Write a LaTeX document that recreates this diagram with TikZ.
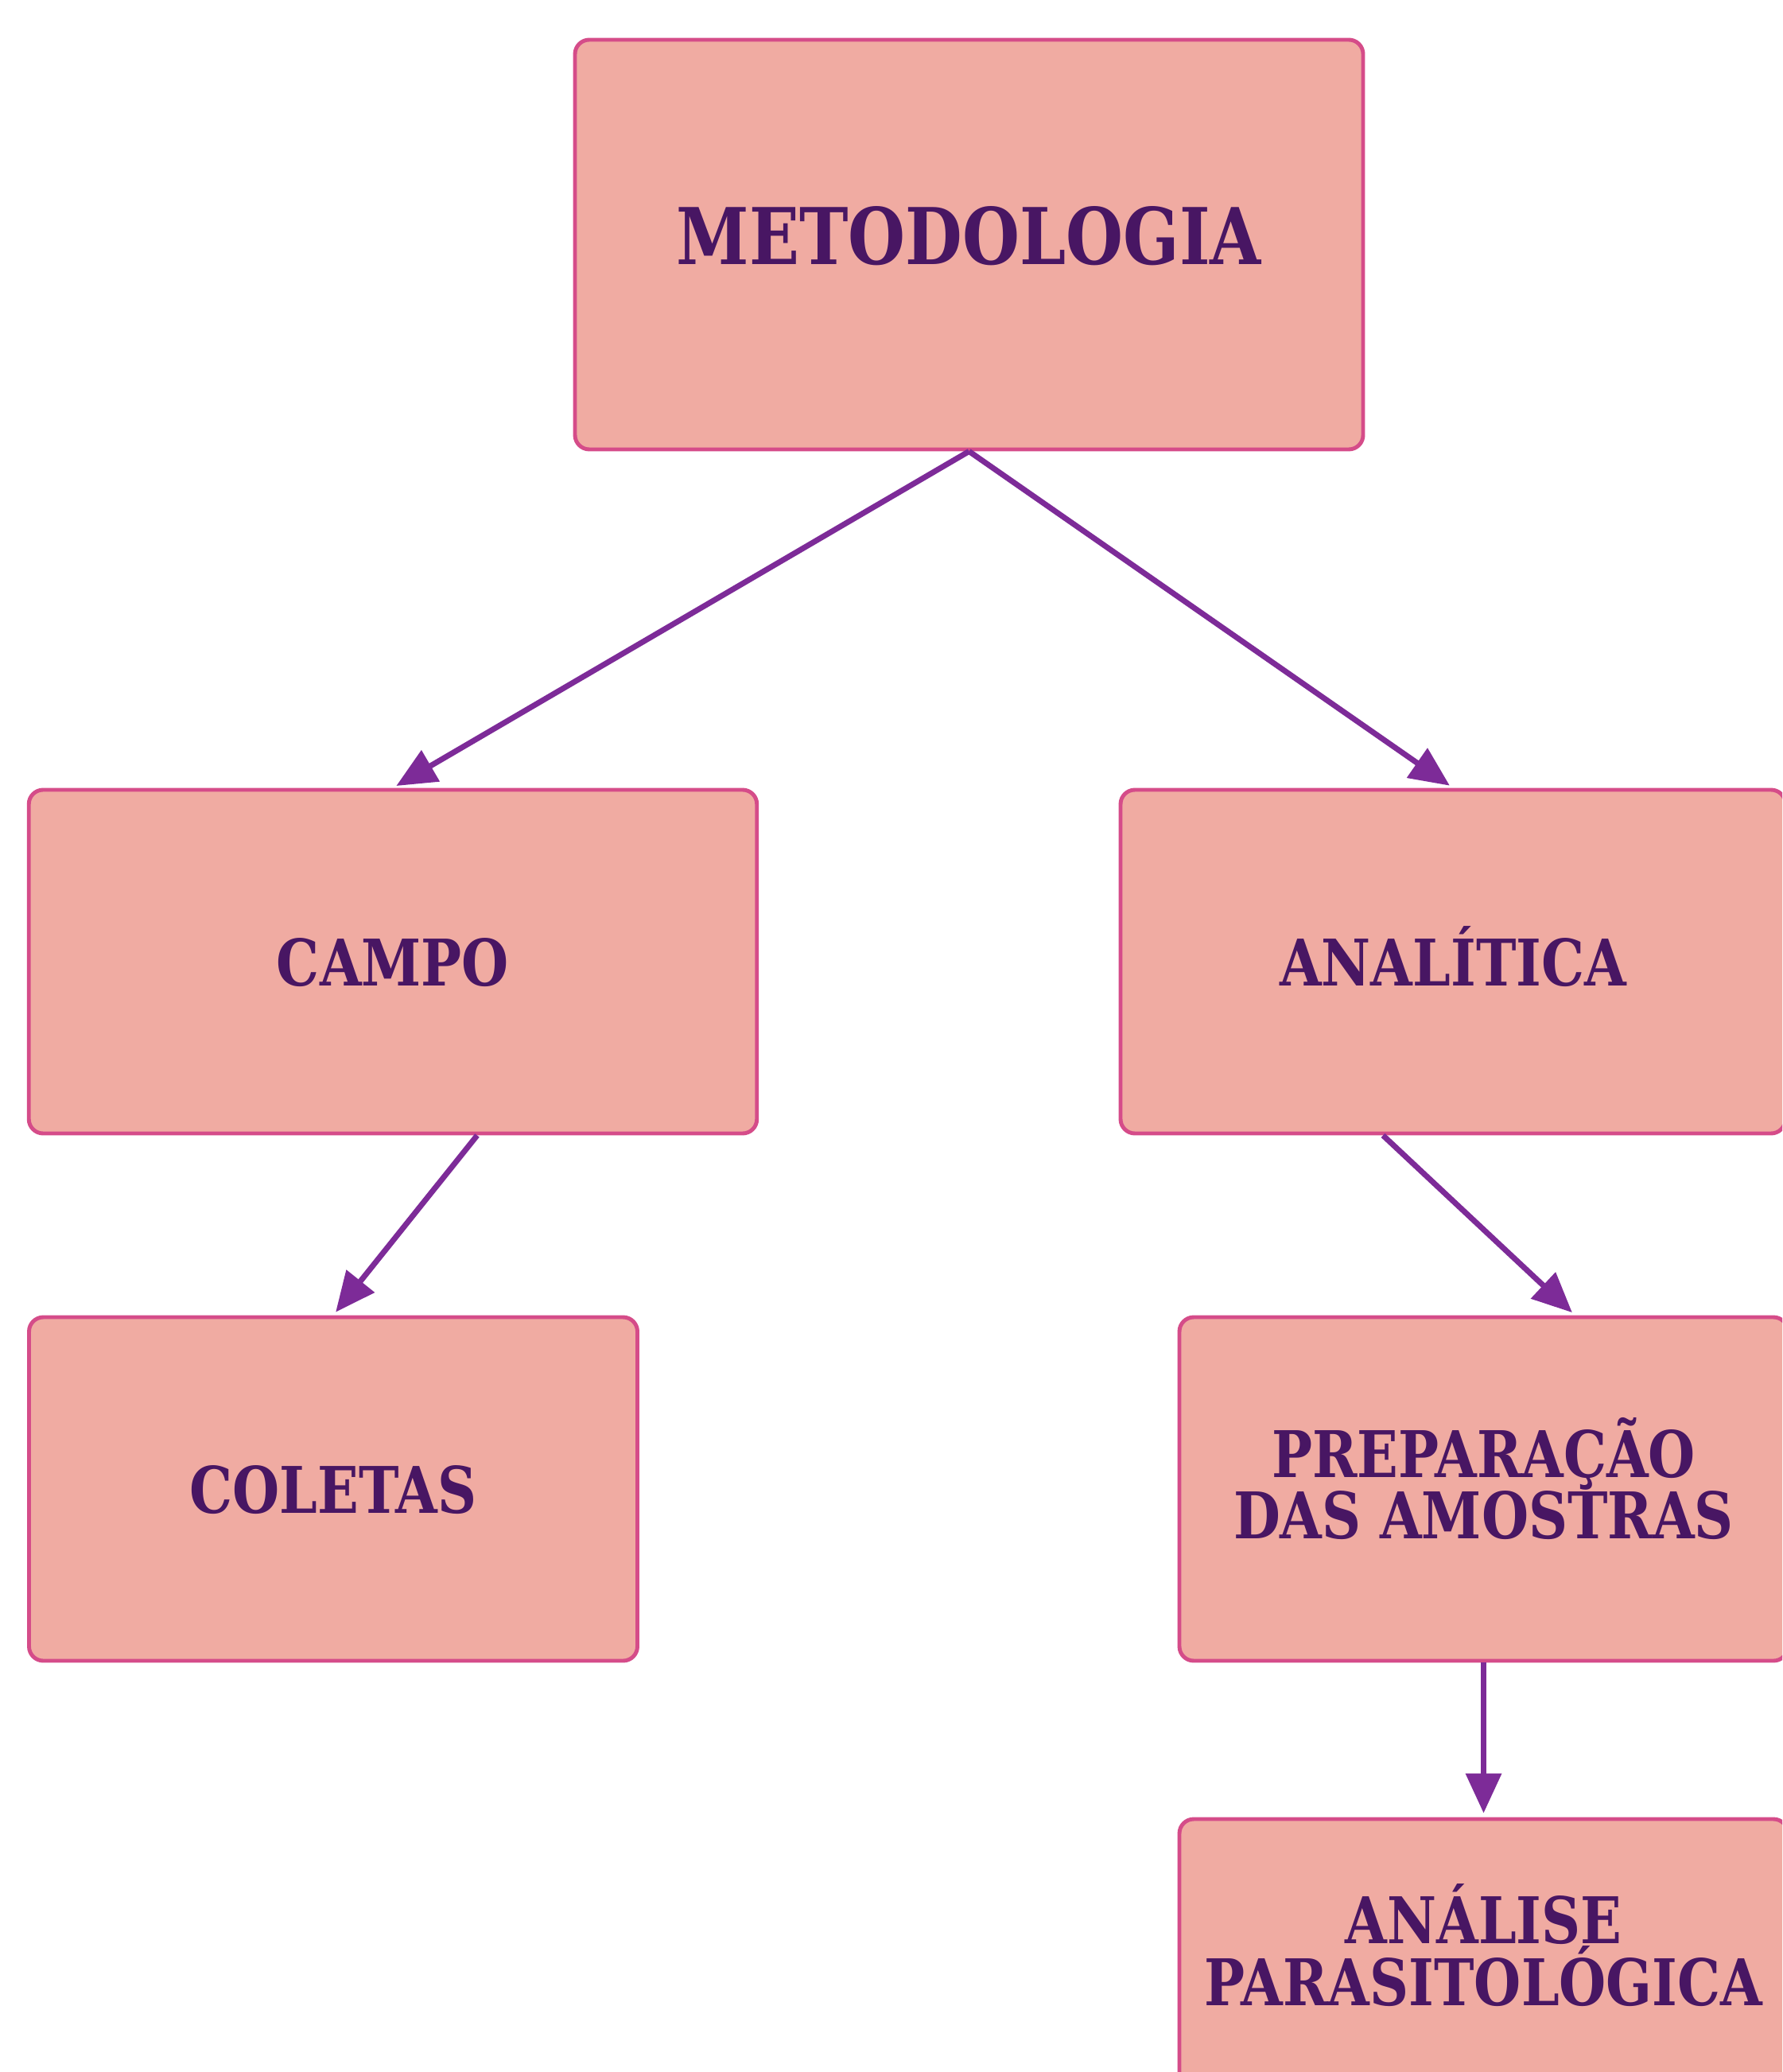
\documentclass[tikz,border=0pt]{standalone}
\usepackage{fontspec}
\usetikzlibrary{arrows.meta}
\newfontfamily\bxfont{DejaVu Serif}[FakeStretch=0.84]
\definecolor{boxfill}{HTML}{F0ABA2}
\definecolor{boxline}{HTML}{D54C89}
\definecolor{arrowc}{HTML}{7D2B98}
\definecolor{txtc}{HTML}{481663}
% text placed with its baseline at a fixed offset from the box centre
\newcommand{\oneline}[2]{\smash{\raisebox{#1}{#2}}}
\newcommand{\twolines}[3]{\smash{\raisebox{#1}{\begin{tabular}[b]{@{}c@{}}\smash{#2}\\\smash{#3}\end{tabular}}}}
\tikzset{
  stepbox/.style={draw=boxline, line width=1.4pt, fill=boxfill, rounded corners=0.18cm,
    inner sep=0pt, anchor=center, align=center, text=txtc,
    font=\bxfont\bfseries\fontsize{23}{22}\selectfont},
  bigbox/.style={stepbox, font=\bxfont\bfseries\fontsize{28}{30}\selectfont},
  conn/.style={draw=arrowc, line width=2pt, shorten >=0.05cm, -{Triangle[length=0.5cm,width=0.44cm]}}
}
\begin{document}
\begin{tikzpicture}
\useasboundingbox (0,0) rectangle (22.41,-26.05);
\fill[white] (0,0) rectangle (22.41,-26.05);
\begin{scope}
\clip (0,0) rectangle (22.41,-26.05);
\node[bigbox, minimum width=9.91cm, minimum height=5.15cm] (meto) at (12.185,-3.075) {\oneline{-0.25cm}{METODOLOGIA}};
\node[stepbox, minimum width=9.155cm, minimum height=4.32cm] (campo) at (4.94,-12.09) {\oneline{-0.3cm}{CAMPO}};
\node[stepbox, minimum width=8.36cm, minimum height=4.32cm] (anal) at (18.27,-12.09) {\oneline{-0.3cm}{ANALÍTICA}};
\node[stepbox, minimum width=7.65cm, minimum height=4.32cm] (colet) at (4.19,-18.72) {\oneline{-0.3cm}{COLETAS}};
\node[stepbox, minimum width=7.65cm, minimum height=4.32cm] (prep) at (18.655,-18.72) {\twolines{-0.625cm}{PREPARAÇÃO}{DAS AMOSTRAS}};
\node[stepbox, minimum width=7.65cm, minimum height=3.45cm] (analise) at (18.655,-24.595) {\twolines{-0.615cm}{ANÁLISE}{PARASITOLÓGICA}};
\end{scope}
\draw[conn] (meto.south) -- (campo.north);
\draw[conn] (meto.south) -- (anal.north);
\draw[conn] ([xshift=1.06cm]campo.south) -- (colet.north);
\draw[conn] ([xshift=-0.88cm]anal.south) -- ([xshift=1.15cm]prep.north);
\draw[conn] (prep.south) -- (analise.north);
\end{tikzpicture}
\end{document}
